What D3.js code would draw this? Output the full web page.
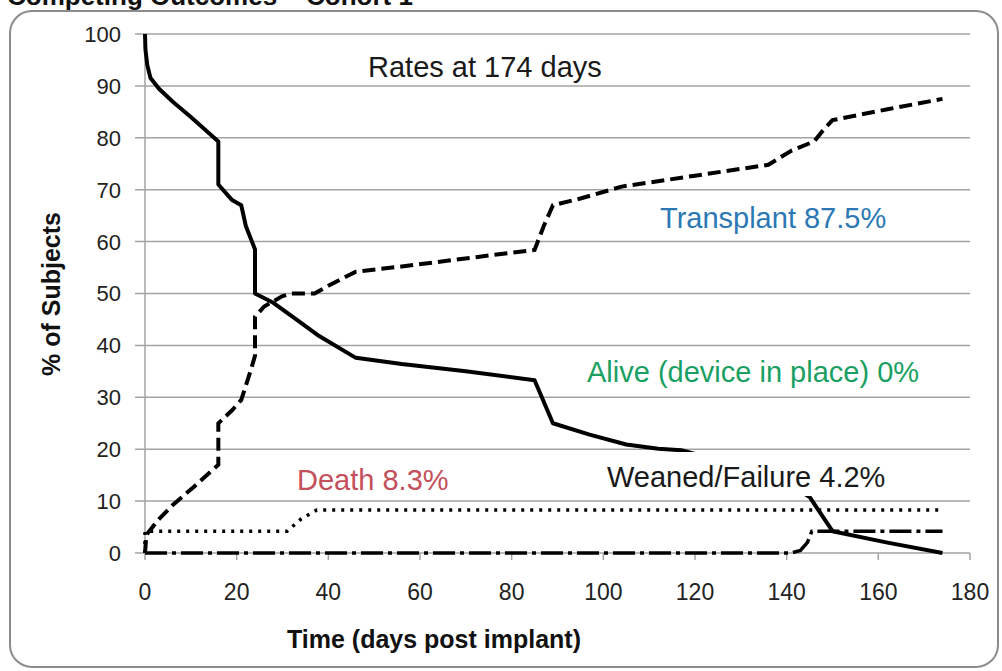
<!DOCTYPE html>
<html>
<head>
<meta charset="utf-8">
<script src="https://cdn.jsdelivr.net/npm/d3@7/dist/d3.min.js"></script>
<style>
  html, body { margin: 0; padding: 0; background: #fff; }
  svg { display: block; }
  text { font-family: "Liberation Sans", Arial, sans-serif; }
</style>
</head>
<body>
<svg id="chart" width="1002" height="671"></svg>
<script>
// ---- data ----
const title = "Competing Outcomes \u2013 Cohort 1";
const xTicks = [0, 20, 40, 60, 80, 100, 120, 140, 160, 180];
const yTicks = [0, 10, 20, 30, 40, 50, 60, 70, 80, 90, 100];

// Alive (device in place) — solid
const aliveDays = [0, 0.1, 0.5, 1.2, 3, 6, 10, 16, 16, 19, 21, 22, 24, 24, 28, 33, 38, 46, 56, 70, 85, 89, 97, 105, 112, 117, 130, 142, 145, 150, 162, 174];
const aliveVals = [100, 97, 94, 91.5, 89.5, 87, 84, 79.3, 71, 68, 67, 63, 58.5, 50, 48.2, 45, 41.8, 37.6, 36.4, 35, 33.3, 25, 22.8, 20.9, 20.1, 19.8, 16.7, 12.5, 10.8, 4.2, 2, 0];

// Transplant — dashed
const txDays = [0, 0.3, 3, 6, 11, 16, 16, 19, 21, 23, 24, 24, 26, 30, 32, 37, 40, 46, 56, 73, 85, 87, 89, 95, 104, 120, 136, 141, 146, 148, 150, 162, 174];
const txVals = [0, 3.5, 6.5, 9.2, 13, 17, 25, 27.5, 29.5, 35, 38, 45.5, 47.5, 49.5, 50, 50, 51.5, 54.2, 55.2, 57.1, 58.4, 63, 67, 68.3, 70.6, 72.7, 74.8, 77.5, 79.3, 81.5, 83.4, 85.5, 87.5];

// Death — dotted
const deathDays = [0, 0, 31, 34, 37.5, 174];
const deathVals = [0, 4.2, 4.2, 6.5, 8.3, 8.3];

// Weaned/Failure — dash-dot
const weanDays = [0, 141, 143, 144.5, 145.5, 174];
const weanVals = [0, 0, 0.5, 2, 4.2, 4.2];

const labels = ["Rates at 174 days", "Transplant 87.5%", "Alive (device in place) 0%", "Death 8.3%", "Weaned/Failure 4.2%"];
const labelColors = ["#1a1a1a", "#2b78b5", "#1a9f63", "#c4505c", "#1a1a1a"];

// ---- drawing ----
const svg = d3.select("#chart");
const x = d3.scaleLinear().domain([0, 180]).range([145, 970]);
const y = d3.scaleLinear().domain([0, 100]).range([553, 34]);

// outer rounded frame
svg.append("rect").attr("x", 10).attr("y", 11).attr("width", 988).attr("height", 656)
  .attr("rx", 22).attr("ry", 22).attr("fill", "none").attr("stroke", "#8c8c8c").attr("stroke-width", 2);

// clipped title (only lower part visible)
svg.append("text").attr("x", 7).attr("y", 5).attr("font-size", 26).attr("font-weight", "bold")
  .attr("fill", "#111").text(title);

// gridlines
svg.append("g").selectAll("line").data(yTicks).join("line")
  .attr("x1", x(0) - 10).attr("x2", x(180))
  .attr("y1", d => y(d)).attr("y2", d => y(d))
  .attr("stroke", "#a3a3a3").attr("stroke-width", 1.5);

// y axis line
svg.append("line").attr("x1", x(0)).attr("x2", x(0)).attr("y1", y(100)).attr("y2", y(0))
  .attr("stroke", "#a3a3a3").attr("stroke-width", 1.5);

// x ticks
svg.append("g").selectAll("line").data(xTicks).join("line")
  .attr("x1", d => x(d)).attr("x2", d => x(d)).attr("y1", y(0)).attr("y2", y(0) + 7)
  .attr("stroke", "#a3a3a3").attr("stroke-width", 1.5);

// y tick labels
svg.append("g").selectAll("text").data(yTicks).join("text")
  .attr("x", 121).attr("y", d => y(d)).attr("dy", "0.36em")
  .attr("text-anchor", "end").attr("font-size", 22).attr("fill", "#222").text(d => d);

// x tick labels
svg.append("g").selectAll("text").data(xTicks).join("text")
  .attr("x", d => x(d)).attr("y", 600)
  .attr("text-anchor", "middle").attr("font-size", 23).attr("fill", "#222").text(d => d);

// axis titles
svg.append("text").attr("transform", "translate(60,294) rotate(-90)")
  .attr("text-anchor", "middle").attr("font-size", 25).attr("font-weight", "bold").attr("fill", "#111")
  .text("% of Subjects");
svg.append("text").attr("x", 434).attr("y", 648)
  .attr("text-anchor", "middle").attr("font-size", 25).attr("font-weight", "bold").attr("fill", "#111")
  .text("Time (days post implant)");

const line = d3.line().x(d => x(d[0])).y(d => y(d[1])).curve(d3.curveLinear);
function series(days, vals) { return days.map((d, i) => [d, vals[i]]); }

const g = svg.append("g").attr("fill", "none").attr("stroke", "#000");
g.append("path").datum(series(aliveDays, aliveVals)).attr("d", line)
  .attr("stroke-width", 4).attr("stroke-linejoin", "round");
g.append("path").datum(series(txDays, txVals)).attr("d", line)
  .attr("stroke-width", 4).attr("stroke-dasharray", "13,6");
g.append("path").datum(series(deathDays, deathVals)).attr("d", line)
  .attr("stroke-width", 3.5).attr("stroke-dasharray", "3,6");
g.append("path").datum(series(weanDays, weanVals)).attr("d", line)
  .attr("stroke-width", 3.5).attr("stroke-dasharray", "22,5,4,5");

// white box behind the Weaned/Failure label (hides part of the solid curve, as in the reference)
svg.append("rect").attr("x", 600).attr("y", 452).attr("width", 300).attr("height", 44).attr("fill", "#fff");

// annotations
const labelPos = [[368, 77], [660, 228], [587, 382], [297, 490], [607, 487]];
svg.append("g").selectAll("text").data(labels).join("text")
  .attr("x", (d, i) => labelPos[i][0]).attr("y", (d, i) => labelPos[i][1])
  .attr("font-size", 29).attr("fill", (d, i) => labelColors[i]).text(d => d);
</script>
</body>
</html>
